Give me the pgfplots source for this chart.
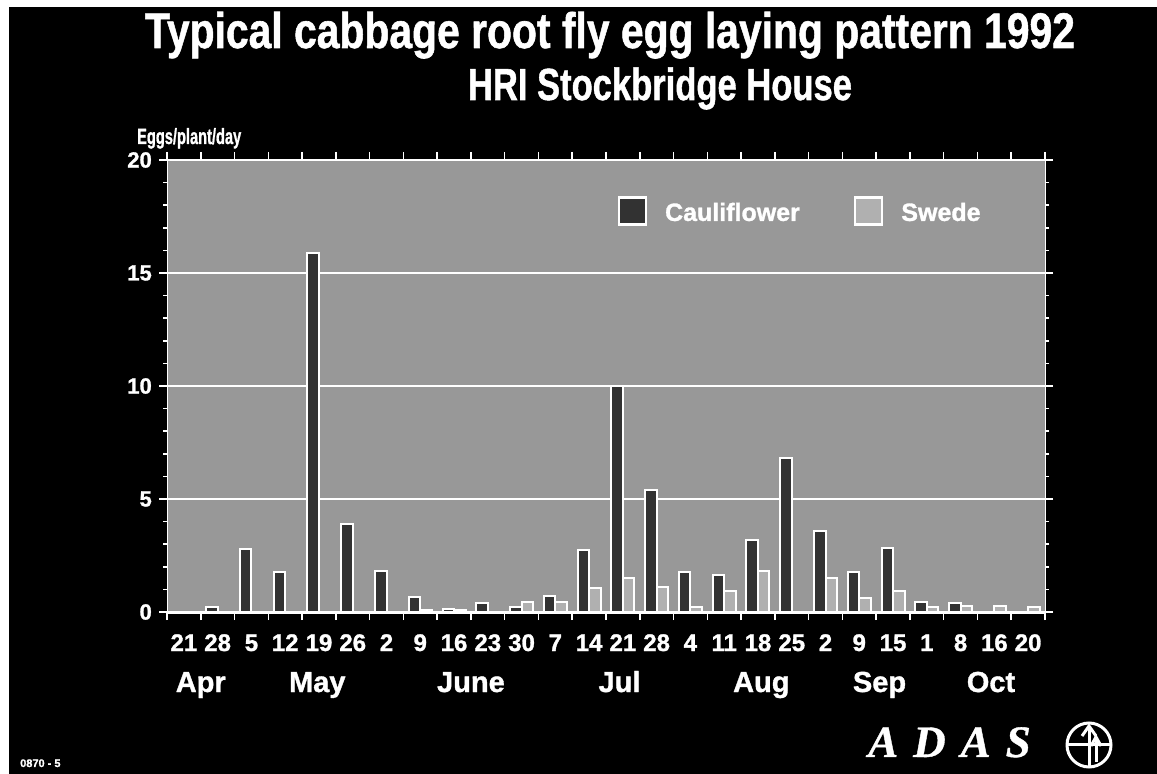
\documentclass[border=0pt]{standalone}
\usepackage{fontspec}
\setmainfont{Liberation Sans}
\newfontfamily\hb[FakeBold=1.2]{Liberation Sans Bold}
\newfontfamily\logofont[FakeBold=0.8]{Liberation Serif Bold Italic}
\usepackage{graphicx}
\usepackage{pgfplots}
\pgfplotsset{compat=1.18}

\definecolor{plotbg}{RGB}{152,152,152}
\definecolor{cauliflower}{RGB}{50,50,50}
\definecolor{swede}{RGB}{176,176,176}

\pgfplotsset{
  boxlegend/.style={legend image code/.code={
      \draw[##1, line width=2.5pt] (0pt,-12pt) rectangle (27pt,15pt);}},
}

\begin{document}
\begin{tikzpicture}
\useasboundingbox (0pt,0pt) rectangle (1157pt,774pt);
\fill[white] (0pt,0pt) rectangle (1157pt,774pt);
\fill[black] (9pt,0pt) rectangle (1157pt,767pt);

% titles
\node[anchor=base, text=white, inner sep=0pt] at (610pt,726pt)
  {\resizebox{930pt}{\height}{\hb\fontsize{50}{50}\selectfont Typical cabbage root fly egg laying pattern 1992}};
\node[anchor=base, text=white, inner sep=0pt] at (660pt,674pt)
  {\resizebox{384pt}{\height}{\hb\fontsize{45}{45}\selectfont HRI Stockbridge House}};
\node[anchor=base west, text=white, inner sep=0pt] at (137pt,630pt)
  {\resizebox{104pt}{\height}{\hb\fontsize{22}{22}\selectfont Eggs/plant/day}};

\begin{axis}[
  at={(167pt,162pt)}, anchor=south west,
  scale only axis, width=878pt, height=452pt,
  clip=false,
  xmin=-0.5, xmax=25.5, ymin=0, ymax=20,
  axis background/.style={fill=plotbg},
  axis line style={white, line width=1pt},
  ybar=0pt, bar width=11.5pt,
  ytick={0,5,...,20}, minor y tick num=4,
  ymajorgrids, major grid style={white, line width=1.5pt},
  xtick={-0.5,0.5,...,25.5}, xticklabels={},
  extra x ticks={0,...,25},
  extra x tick labels={21,28,5,12,19,26,2,9,16,23,30,7,14,21,28,4,11,18,25,2,9,15,1,8,16,20},
  extra x tick style={tick style={draw=none}},
  tick align=outside,
  major tick length=8pt, minor tick length=4pt,
  tick style={white, line width=1.5pt},
  /pgf/number format/assume math mode=true,
  yticklabel style={text=white, font=\hb\fontsize{22}{22}\selectfont, xshift=-6pt, inner sep=1pt},
  xticklabel style={text=white, font=\hb\fontsize{24}{24}\selectfont, anchor=base, yshift=-31pt},
  legend style={at={(rel axis cs:0.513,0.92)}, anchor=north west, draw=none, fill=none,
    text=white, font=\hb\fontsize{25}{25}\selectfont, inner sep=0pt,
    legend columns=2,
    /tikz/every odd column/.append style={column sep=16pt},
    /tikz/every even column/.append style={column sep=52pt}},
]
% Cauliflower
\addplot[fill=cauliflower, draw=white, line width=2pt, boxlegend] coordinates {
  (0,0) (1,0.2) (2,2.8) (3,1.75) (4,15.9) (5,3.9) (6,1.8) (7,0.65) (8,0.15)
  (9,0.4) (10,0.2) (11,0.7) (12,2.75) (13,10.0) (14,5.4) (15,1.75) (16,1.65)
  (17,3.2) (18,6.8) (19,3.6) (20,1.75) (21,2.85) (22,0.45) (23,0.4) (24,0) (25,0)
};
\addlegendentry{Cauliflower}
% Swede
\addplot[fill=swede, draw=white, line width=2pt, boxlegend] coordinates {
  (0,0) (1,0) (2,0) (3,0) (4,0) (5,0) (6,0) (7,0.1) (8,0.1)
  (9,0) (10,0.45) (11,0.45) (12,1.05) (13,1.5) (14,1.1) (15,0.2) (16,0.95)
  (17,1.8) (18,0) (19,1.5) (20,0.6) (21,0.95) (22,0.2) (23,0.25) (24,0.25) (25,0.2)
};
\addlegendentry{Swede}

% heavy baseline
\draw[white, line width=3pt] (rel axis cs:0,0) -- (rel axis cs:1,0);

% month names
\begin{scope}[every node/.style={anchor=base, text=white, inner sep=0pt,
    font=\hb\fontsize{29}{29}\selectfont}]
\node[yshift=-80pt] at (axis cs:0.5,0) {Apr};
\node[yshift=-80pt] at (axis cs:3.95,0) {May};
\node[yshift=-80pt] at (axis cs:8.5,0) {June};
\node[yshift=-80pt] at (axis cs:12.9,0) {Jul};
\node[yshift=-80pt] at (axis cs:17.1,0) {Aug};
\node[yshift=-80pt] at (axis cs:20.6,0) {Sep};
\node[yshift=-80pt] at (axis cs:23.9,0) {Oct};
\end{scope}
\end{axis}

% slide reference
\node[anchor=base west, text=white, inner sep=0pt] at (20pt,7pt)
  {\hb\fontsize{11}{11}\selectfont 0870 - 5};

% ADAS logo
\node[anchor=base west, text=white, inner sep=0pt] at (868pt,17pt)
  {\logofont\fontsize{45}{45}\selectfont A\hspace{15pt}D\hspace{15pt}A\hspace{15pt}S};
\begin{scope}[white, line width=3pt]
\draw (1089pt,29pt) circle (22pt);
\draw (1068pt,29pt) -- (1110pt,29pt);
\draw (1089pt,7pt) -- (1089pt,48pt);
\draw (1082pt,38pt) -- (1089pt,48pt) -- (1096pt,38pt);
\draw (1096pt,12pt) -- (1096pt,36pt);
\draw (1091pt,28pt) -- (1096pt,37pt) -- (1101pt,28pt);
\end{scope}
\end{tikzpicture}
\end{document}
